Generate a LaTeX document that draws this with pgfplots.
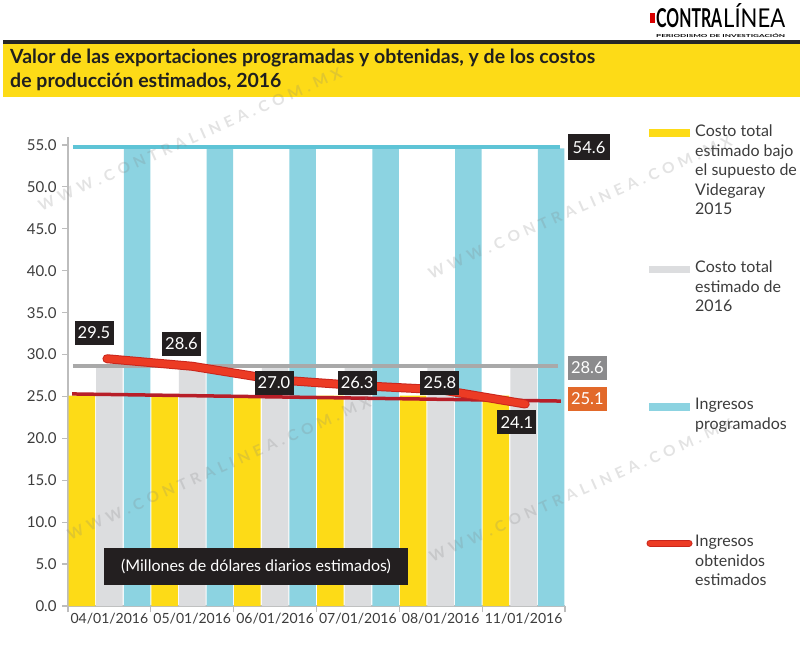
\documentclass[border=0pt]{standalone}
\usepackage{pgfplots}
\pgfplotsset{compat=1.18}
\usepackage{fontspec}
\setmainfont{Lato}
\definecolor{cyel}{HTML}{FDDB17}
\definecolor{cgry}{HTML}{DCDDDF}
\definecolor{ccya}{HTML}{8CD3E1}
\definecolor{ccyaline}{HTML}{5EC4D6}
\definecolor{cgryline}{HTML}{A9A9A9}
\definecolor{cred}{HTML}{EC3B24}
\definecolor{credd}{HTML}{C9261C}
\definecolor{cdred}{HTML}{B81E28}
\definecolor{cbox}{HTML}{231F20}
\definecolor{cgbox}{HTML}{8B8B8D}
\definecolor{cobox}{HTML}{E2692A}
\definecolor{ctick}{HTML}{3C3C3C}
\definecolor{caxis}{HTML}{BDBDBD}
\newcommand{\wm}{\resizebox{330pt}{11pt}{\bfseries W\kern3pt W\kern3pt W\kern3pt .\kern3pt C\kern3pt O\kern3pt N\kern3pt T\kern3pt R\kern3pt A\kern3pt L\kern3pt I\kern3pt N\kern3pt E\kern3pt A\kern3pt .\kern3pt C\kern3pt O\kern3pt M\kern3pt .\kern3pt M\kern3pt X}}
\begin{document}
\begin{tikzpicture}[x=1pt,y=1pt,
  vbox/.style={fill=cbox, text=white, inner sep=0pt, minimum width=39pt, minimum height=24pt, font=\fontsize{16.5}{16.5}\selectfont}]
\path[use as bounding box, fill=white] (0,0) rectangle (800,649);
% header
\fill[black!85] (3,649-44) rectangle (800,649-40);
\fill[cyel] (3,649-97) rectangle (800,649-44);
\node[anchor=base west, inner sep=0pt, font=\fontsize{19.5}{22}\selectfont\bfseries, text=black!88] at (10,649-64) {Valor de las exportaciones programadas y obtenidas, y de los costos};
\node[anchor=base west, inner sep=0pt, font=\fontsize{19.5}{22}\selectfont\bfseries, text=black!88] at (10,649-88) {de producción estimados, 2016};
% logo
\fill[red!85!black] (650,649-23) rectangle (655,649-13);
\node[anchor=base west, inner sep=0pt] at (656,649-28) {\resizebox{66pt}{19pt}{\bfseries CONTRA}};
\node[anchor=base west, inner sep=0pt] at (723,649-28) {\resizebox{62pt}{24pt}{LÍNEA}};
\node[anchor=base west, inner sep=0pt] at (656,649-37.5) {\resizebox{129pt}{3.8pt}{\bfseries PERIODISMO DE INVESTIGACIÓN}};

\begin{axis}[at={(68pt,43pt)}, anchor=south west, scale only axis,
  width=497pt, height=469.4pt, xmin=0, xmax=6, ymin=0, ymax=56, clip=false,
  axis x line*=bottom, axis y line*=left,
  axis line style={draw=caxis, line width=1.5pt, -},
  tick align=outside, major tick length=6pt,
  tick style={draw=caxis, line width=1.2pt},
  ytick={0,5,...,55},
  yticklabel style={font=\fontsize{15}{15}\selectfont, text=ctick, xshift=-2pt},
  /pgf/number format/.cd, fixed, fixed zerofill, precision=1, assume math mode=true, /pgfplots/.cd,
  xtick={0,1,2,3,4,5,6}, xticklabels={,,,,,,},
  extra x ticks={0.5,1.5,2.5,3.5,4.5,5.5},
  extra x tick labels={04/01/2016,05/01/2016,06/01/2016,07/01/2016,08/01/2016,11/01/2016},
  extra x tick style={major tick length=0pt, xticklabel style={font=\fontsize{14}{14}\selectfont, text=ctick, yshift=-4pt}},
]
% bars
\addplot[ybar, bar width=0.32, bar shift=0pt, fill=cyel, draw=none] coordinates {(0.1667,25.1)(1.1667,25.1)(2.1667,25.1)(3.1667,25.1)(4.1667,25.1)(5.1667,25.1)};
\addplot[ybar, bar width=0.32, bar shift=0pt, fill=cgry, draw=none] coordinates {(0.5,28.6)(1.5,28.6)(2.5,28.6)(3.5,28.6)(4.5,28.6)(5.5,28.6)};
\addplot[ybar, bar width=0.32, bar shift=0pt, fill=ccya, draw=none] coordinates {(0.8333,54.6)(1.8333,54.6)(2.8333,54.6)(3.8333,54.6)(4.8333,54.6)(5.8333,54.6)};
% reference lines
\addplot[cgryline, line width=4pt] coordinates {(0.06,28.6)(5.91,28.6)};
\addplot[ccyaline, line width=4pt] coordinates {(0.06,54.8)(5.94,54.8)};
\addplot[cdred, line width=3.5pt] coordinates {(0.05,25.3)(5.95,24.45)};
% obtained revenue
\addplot[credd, line width=9pt, line cap=round, line join=round] coordinates {(0.47,29.5)(1.5,28.6)(2.5,27.0)(3.5,26.3)(4.5,25.8)(5.52,24.1)};
\addplot[cred, line width=7pt, line cap=round, line join=round] coordinates {(0.47,29.5)(1.5,28.6)(2.5,27.0)(3.5,26.3)(4.5,25.8)(5.52,24.1)};
% value boxes
\node[vbox] at (axis cs:0.314,32.57) {29.5};
\node[vbox] at (axis cs:1.37,31.26) {28.6};
\node[vbox] at (axis cs:2.487,26.66) {27.0};
\node[vbox] at (axis cs:3.49,26.66) {26.3};
\node[vbox] at (axis cs:4.49,26.6) {25.8};
\node[vbox] at (axis cs:5.42,21.9) {24.1};
\node[vbox, minimum width=42pt, minimum height=26pt] at (axis cs:6.29,54.7) {54.6};
\node[vbox, fill=cgbox] at (axis cs:6.27,28.4) {28.6};
\node[vbox, fill=cobox] at (axis cs:6.27,24.7) {25.1};
\node[fill=cbox, text=white, inner sep=0pt, minimum width=304pt, minimum height=37pt, font=\fontsize{16}{16}\selectfont] at (axis cs:2.27,4.71) {(Millones de dólares diarios estimados)};
\end{axis}
% legend
\fill[cyel] (649,649-137) rectangle (690,649-129);
\fill[cgry] (649,649-273) rectangle (690,649-266);
\fill[ccya] (649,649-411) rectangle (690,649-403);
\draw[credd, line width=7pt, line cap=round] (650,649-543) -- (689,649-543);
\draw[cred, line width=5pt, line cap=round] (650,649-543) -- (689,649-543);
\begin{scope}[every node/.style={anchor=north west, inner sep=0pt, align=left, text=ctick, font=\fontsize{16}{19.5}\selectfont}]
\node at (695,649-125) {Costo total\\estimado bajo\\el supuesto de\\Videgaray\\2015};
\node at (695,649-261) {Costo total\\estimado de\\2016};
\node at (695,649-398) {Ingresos\\programados};
\node at (695,649-535) {Ingresos\\obtenidos\\estimados};
\end{scope}
% watermarks
\begin{scope}[every node/.style={rotate=24, text=gray, text opacity=0.22, inner sep=0pt}]
\node at (190,649-139) {\wm};
\node at (580,649-207) {\wm};
\node at (219,649-468) {\wm};
\node at (581,649-490) {\wm};
\end{scope}
\end{tikzpicture}
\end{document}
